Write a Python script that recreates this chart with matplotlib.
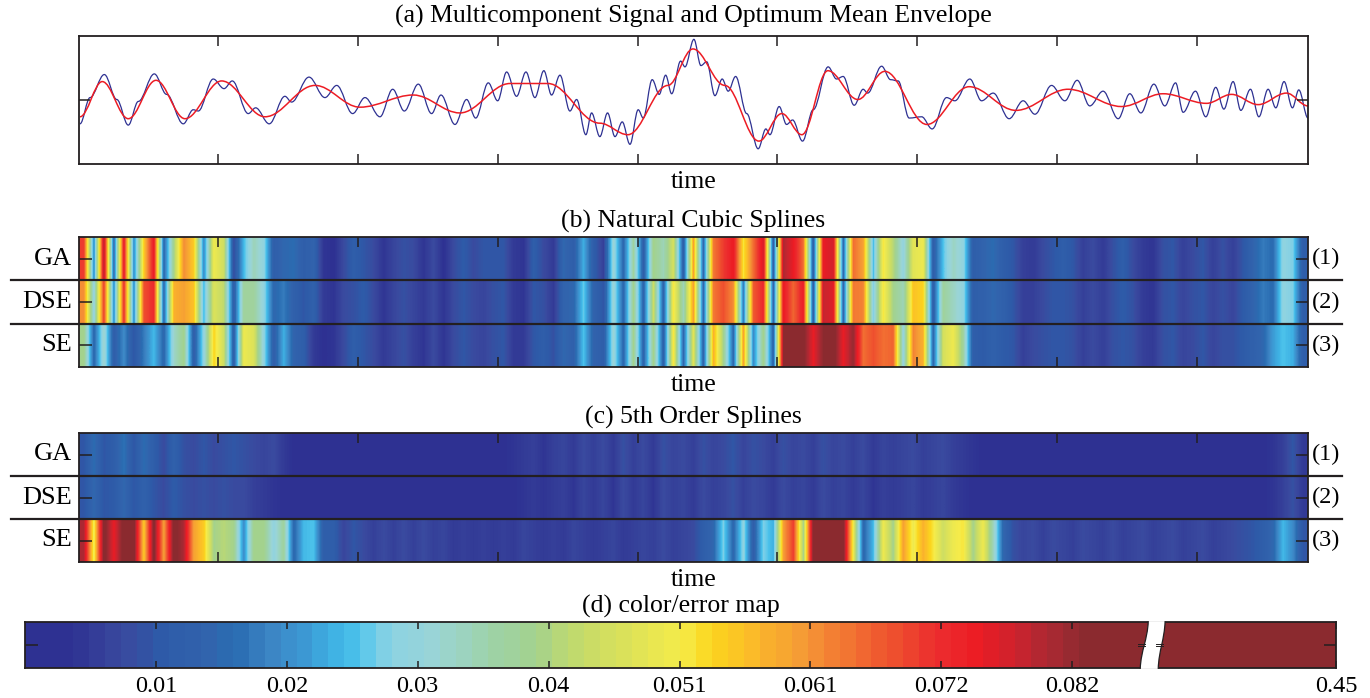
import numpy as np
import matplotlib
matplotlib.use('Agg')
import matplotlib.pyplot as plt
from matplotlib.path import Path
from matplotlib.patches import PathPatch, Rectangle
from matplotlib.colors import LinearSegmentedColormap, Normalize

plt.rcParams['font.family'] = ['Liberation Serif', 'DejaVu Serif']

# ---- (a) signal: turning points of the multicomponent signal and of the mean envelope
sig_t = [1.7, 8.9, 19.1, 28.0, 36.2, 43.4, 54.8, 63.6, 75.5, 82.6, 86.2, 96.9, 104.6, 110.5, 121.9,
         127.2, 136.9, 148.1, 152.9, 165.3, 176.7, 185.1, 196.5, 205.3, 216.0, 225.1, 233.4, 243.4,
         252.9, 259.6, 269.6, 277.9, 284.4, 293.4, 300.1, 306.5, 313.6, 320.3, 326.7, 333.1, 338.6,
         344.6, 351.7, 356.5, 363.1, 367.2, 373.1, 378.6, 383.9, 389.1, 394.6, 400.5, 404.1, 410.5,
         415.5, 420.1, 424.4, 430.8, 433.9, 440.3, 445.3, 449.4, 455.3, 460.5, 464.8, 470.1, 478.0,
         486.2, 491.7, 494.6, 501.2, 506.5, 510.8, 517.9, 525.5, 536.2, 542.2, 546.9, 554.8, 561.2,
         564.4, 574.4, 580.8, 586.2, 594.1, 603.0, 610.5, 620.8, 626.7, 637.4, 645.8, 654.1, 665.5,
         675.5, 683.9, 695.8, 705.3, 714.1, 723.1, 732.6, 743.4, 751.7, 759.6, 768.9, 776.7, 784.4,
         789.8, 798.6, 806.0, 813.1, 818.9, 825.5, 831.0, 837.9, 843.9, 850.5, 856.0, 861.9, 867.9,
         872.4, 879.0]
sig_v = [-0.38, 0.03, 0.39, 0.0, -0.40, -0.03, 0.40, 0.08, -0.38, -0.16, -0.18, 0.32, 0.17, 0.29, -0.22,
         -0.13, -0.38, 0.05, -0.04, 0.35, 0.03, 0.22, -0.22, 0.03, -0.27, 0.16, -0.18, 0.24,
         -0.22, 0.07, -0.39, 0.0, -0.29, 0.26, -0.02, 0.43, 0.05, 0.43, 0.03, 0.45, 0.07,
         0.38, -0.18, 0.0, -0.55, -0.21, -0.58, -0.21, -0.58, -0.35, -0.70, -0.16, -0.29, 0.31,
         0.08, 0.38, 0.09, 0.60, 0.51, 0.94, 0.53, 0.59, 0.06, 0.32, 0.13, 0.36, -0.22,
         -0.77, -0.46, -0.55, -0.11, -0.39, -0.32, -0.65, -0.16, 0.51, 0.32, 0.36, -0.09, 0.16,
         0.10, 0.52, 0.31, 0.29, -0.29, -0.27, -0.46, 0.03, -0.02, 0.32, -0.02, 0.10, -0.30,
         -0.02, -0.23, 0.22, -0.02, 0.30, -0.10, 0.13, -0.30, 0.09, -0.21, 0.24, -0.10, 0.26,
         -0.20, 0.13, -0.27, 0.19, -0.15, 0.28, -0.17, 0.16, -0.27, 0.16, -0.13, 0.28, -0.13,
         0.15, -0.29]
env_t = [1.7, 17.6, 36.2, 56.0, 76.7, 102.9, 133.9, 169.6, 201.7, 239.8, 273.1, 308.9, 336.0, 373.0,
         393.1, 421.7, 439.6, 462.4, 486.7, 503.1, 517.4, 536.0, 557.4, 576.7, 606.7, 636.9, 670.3,
         707.6, 745.8, 775.5, 806.5, 824.4, 843.4, 863.6, 879.0]
env_v = [-0.27, 0.28, -0.30, 0.30, -0.30, 0.29, -0.27, 0.22, -0.12, 0.07, -0.21, 0.25, 0.25, -0.37,
         -0.55, 0.22, 0.79, 0.22, -0.65, -0.22, -0.55, 0.45, 0.0, 0.44, -0.39, 0.20, -0.17,
         0.16, -0.11, 0.09, -0.06, 0.08, -0.08, 0.10, -0.10]

# ---- (b), (c): error along time (123 equal time bins), units of 1e-3
rows = ['GA', 'DSE', 'SE']
row_tags = ['(1)', '(2)', '(3)']
nat_GA = [70, 20, 80, 15, 75, 20, 55, 75, 15, 40, 62, 55, 20, 50, 45, 8, 25, 35, 30, 12,
          15, 16, 12, 14, 4, 3, 8, 12, 10, 8, 4, 7, 9, 8, 4, 8, 3, 8, 11, 8, 10,
          10, 10, 5, 4, 12, 8, 5, 15, 12, 24, 12, 6, 32, 15, 38, 12, 40, 35, 46, 12,
          60, 15, 64, 70, 75, 52, 65, 77, 12, 80, 75, 65, 12, 75, 77, 15, 65, 60, 25, 52, 42,
          30, 48, 50, 12, 26, 34, 30, 12, 14, 16, 12, 10, 6, 5, 8, 10, 12, 10, 6, 8,
          5, 9, 12, 8, 5, 4, 9, 10, 6, 8, 10, 6, 9, 6, 10, 14, 18, 16, 30, 28, 12]
nat_DSE = [62, 30, 70, 20, 72, 20, 68, 72, 15, 58, 60, 56, 25, 47, 43, 12, 38, 38, 30, 15,
           18, 13, 10, 13, 5, 4, 8, 9, 11, 8, 4, 7, 9, 7, 5, 8, 4, 8, 10, 8, 7,
           9, 10, 5, 4, 10, 9, 5, 14, 15, 27, 14, 10, 32, 15, 40, 14, 45, 14, 52, 35,
           60, 15, 64, 68, 62, 18, 67, 72, 14, 75, 66, 74, 12, 78, 76, 14, 64, 63, 28, 52, 40,
           35, 56, 54, 12, 38, 34, 30, 12, 13, 15, 13, 10, 6, 6, 8, 10, 10, 9, 6, 8,
           6, 9, 11, 9, 5, 4, 9, 10, 7, 9, 10, 7, 9, 7, 11, 14, 18, 16, 30, 28, 12]
nat_SE = [40, 15, 33, 12, 20, 10, 18, 25, 15, 33, 40, 12, 30, 54, 45, 12, 50, 47, 30, 12,
          24, 14, 12, 5, 3, 4, 8, 12, 10, 8, 5, 7, 9, 6, 4, 8, 4, 8, 10, 8, 7,
          9, 10, 5, 5, 10, 12, 9, 15, 13, 26, 14, 12, 32, 15, 40, 14, 40, 13, 52, 15,
          48, 14, 58, 40, 15, 60, 20, 40, 14, 83, 85, 84, 75, 83, 85, 75, 82, 65, 68, 65, 66,
          30, 63, 58, 15, 46, 50, 38, 12, 11, 13, 11, 10, 6, 8, 9, 10, 10, 9, 6, 8,
          6, 9, 10, 9, 6, 5, 9, 10, 7, 8, 10, 7, 9, 9, 11, 13, 15, 22, 26, 24, 12]
fifth_GA = [10, 16, 10, 12, 17, 10, 16, 12, 8, 13, 9, 8, 10, 8, 9, 10, 9, 8, 7, 8,
            5, 3, 3, 3, 3, 3, 3, 3, 3, 3, 3, 3, 3, 3, 3, 3, 3, 3, 3, 3, 3,
            3, 3, 4, 5, 6, 4, 6, 7, 5, 8, 6, 8, 5, 9, 6, 8, 5, 9, 7, 8,
            6, 9, 7, 8, 10, 7, 9, 8, 6, 9, 7, 8, 6, 9, 7, 8, 6, 8, 5, 7, 6,
            7, 8, 6, 7, 8, 6, 5, 4, 3, 3, 3, 3, 3, 3, 3, 3, 3, 3, 3, 3,
            3, 3, 3, 3, 3, 3, 3, 3, 3, 3, 3, 3, 3, 3, 3, 3, 3, 4, 6, 10, 5]
fifth_DSE = [10, 15, 10, 11, 15, 10, 13, 10, 8, 11, 9, 8, 9, 8, 9, 8, 8, 6, 5, 4,
             3, 3, 3, 3, 3, 3, 3, 3, 3, 3, 3, 3, 3, 3, 3, 3, 3, 3, 3, 3, 3,
             3, 3, 3, 4, 5, 4, 5, 6, 4, 7, 5, 7, 4, 8, 5, 7, 4, 8, 6, 7,
             5, 8, 6, 7, 9, 6, 8, 7, 5, 8, 6, 7, 5, 8, 6, 7, 5, 7, 4, 6, 5,
             6, 7, 5, 6, 7, 5, 4, 3, 3, 3, 3, 3, 3, 3, 3, 3, 3, 3, 3, 3,
             3, 3, 3, 3, 3, 3, 3, 3, 3, 3, 3, 3, 3, 3, 3, 3, 3, 4, 6, 9, 5]
fifth_SE = [80, 50, 85, 75, 85, 85, 55, 85, 60, 85, 80, 60, 55, 40, 42, 40, 20, 40, 40, 30,
            38, 15, 25, 26, 12, 12, 7, 10, 8, 6, 8, 6, 8, 6, 8, 6, 7, 5, 6, 5, 6,
            5, 6, 5, 7, 6, 5, 6, 5, 7, 6, 5, 6, 7, 5, 6, 7, 6, 8, 6, 7,
            8, 12, 15, 28, 15, 30, 12, 28, 24, 60, 70, 40, 85, 85, 85, 85, 50, 15, 25, 50, 40,
            60, 50, 58, 52, 45, 50, 52, 40, 50, 35, 15, 9, 7, 8, 6, 8, 7, 6, 8, 7,
            6, 8, 6, 7, 8, 6, 7, 8, 6, 7, 8, 6, 7, 8, 9, 10, 12, 15, 25, 20, 10]

# ---- (d) colour / error map
cb_ticks = [0.01025, 0.0205, 0.03075, 0.041, 0.05125, 0.0615, 0.07175, 0.082]
cb_labels = ['0.01', '0.02', '0.03', '0.04', '0.051', '0.061', '0.072', '0.082']
cb_max_label = '0.45'

cmap_nodes = [(0.000, '#2e3192'), (0.003, '#2e3192'), (0.0077, '#3a4a9f'), (0.0104, '#2e5aa8'),
              (0.0143, '#3265ae'), (0.0163, '#2a6db2'), (0.019, '#3d84c4'), (0.0216, '#3c98d3'),
              (0.0242, '#3fb2e4'), (0.026, '#4dc4ec'), (0.0276, '#7acfe8'), (0.0294, '#8fd3e1'),
              (0.032, '#9ad5d7'), (0.0364, '#9ed3a9'), (0.0399, '#a3d28e'), (0.0434, '#c5db6a'),
              (0.0469, '#dbe25a'), (0.0513, '#f6ec4a'), (0.0538, '#fcd61e'), (0.0574, '#fbb72b'),
              (0.0609, '#f59a36'), (0.0643, '#f37633'), (0.0678, '#ef532f'), (0.0718, '#ec2b2e'),
              (0.0748, '#ed1c24'), (0.0783, '#c52530'), (0.0811, '#a12a33'), (0.0832, '#8b2a2f'),
              (0.0864, '#8b2a2f')]
VMAX = 0.0864
cmap = LinearSegmentedColormap.from_list('err', [(v / VMAX, c) for v, c in cmap_nodes])
norm = Normalize(0, VMAX, clip=True)

T0, T1 = 1, 879
EDGE = '#231f20'
FS = 18.5


def smooth_path(t, v, k=0.36):
    verts = [(t[0], v[0])]
    codes = [Path.MOVETO]
    for i in range(len(t) - 1):
        d = t[i + 1] - t[i]
        verts += [(t[i] + k * d, v[i]), (t[i + 1] - k * d, v[i + 1]), (t[i + 1], v[i + 1])]
        codes += [Path.CURVE4] * 3
    return Path(verts, codes)


def style(ax, ylen=8):
    for s in ax.spines.values():
        s.set_color(EDGE)
        s.set_linewidth(1.3)
    ax.tick_params(direction='in', top=True, right=True, bottom=True, left=True,
                   labelbottom=False, labelleft=False, color=EDGE, width=1.1)
    ax.tick_params(axis='x', length=7)
    ax.tick_params(axis='y', length=ylen)


def time_label(ax):
    ax.annotate('time', (0.5, 0), xycoords='axes fraction', xytext=(0, -17.5),
                textcoords='offset points', ha='center', va='baseline', fontsize=FS)


def title(ax, s, off=6.5):
    ax.annotate(s, (0.5, 1), xycoords='axes fraction', xytext=(0, off),
                textcoords='offset points', ha='center', va='baseline', fontsize=FS)


W, H = 1370, 698
fig = plt.figure(figsize=(W / 100, H / 100), dpi=100)


def box(x0, y0, x1, y1):
    return [x0 / W, 1 - y1 / H, (x1 - x0) / W, (y1 - y0) / H]


# (a)
ax = fig.add_axes(box(79, 35.5, 1308, 163.5))
ax.add_patch(PathPatch(smooth_path(sig_t, sig_v), fill=False, edgecolor='#2e3192', lw=0.9))
ax.add_patch(PathPatch(smooth_path(env_t, env_v), fill=False, edgecolor='#ed1c24', lw=1.1))
ax.set_xlim(T0, T1)
ax.set_ylim(-1, 1)
ax.set_xticks(range(100, 900, 100))
ax.set_yticks([0])
style(ax, 8)
title(ax, '(a) Multicomponent Signal and Optimum Mean Envelope', 9)
time_label(ax)

# (b), (c)
for (y0, y1, name, data) in [(237, 367, '(b) Natural Cubic Splines', [nat_GA, nat_DSE, nat_SE]),
                             (433, 562, '(c) 5th Order Splines', [fifth_GA, fifth_DSE, fifth_SE])]:
    ax = fig.add_axes(box(79, y0, 1308, y1))
    for r, vals in enumerate(data):
        arr = np.array(vals, dtype=float)[None, :] / 1000.0
        ax.imshow(arr, cmap=cmap, norm=norm, aspect='auto', interpolation='bilinear',
                  extent=(T0, T1, r + 1, r))
    ax.set_xlim(T0, T1)
    ax.set_ylim(3, 0)
    ax.set_xticks(range(100, 900, 100))
    ax.set_yticks([0.5, 1.5, 2.5])
    style(ax, 9)
    for yb in (1, 2):
        ax.plot([-0.0553, 1.0277], [yb, yb], transform=ax.get_yaxis_transform(),
                color=EDGE, lw=1.6, clip_on=False)
    for r in range(3):
        ax.annotate(rows[r], (0, r + 0.5), xycoords=ax.get_yaxis_transform(), xytext=(-5, 0),
                    textcoords='offset points', ha='right', va='center', fontsize=FS + 0.5)
        ax.annotate(row_tags[r], (1, r + 0.5), xycoords=ax.get_yaxis_transform(), xytext=(3, 0),
                    textcoords='offset points', ha='left', va='center', fontsize=FS - 1)
    title(ax, name)
    time_label(ax)

# (d) colour bar with a break before the max value
ax = fig.add_axes(box(25, 622, 1336, 668))
step = 0.00125
levels = np.arange(step / 2, 0.0875, step)
ax.imshow(levels[None, :], cmap=cmap, norm=norm, aspect='auto', interpolation='nearest',
          extent=(0, 0.0875, 0, 1))
x_end = 0.10265
ax.add_patch(Rectangle((0.0874, 0), x_end - 0.0874, 1, color=cmap(1.0), lw=0))
ax.set_xlim(0, x_end)
ax.set_ylim(0, 1)


def edge_curve(xt, xb):
    d = xt - xb
    return [(xt, 1.02), (xt - 0.1 * d, 0.6), (xb + 0.1 * d, 0.4), (xb, -0.02)]


lc = edge_curve(0.08795, 0.08732)
rc = edge_curve(0.08927, 0.08873)
gap = Path(lc + [rc[3]] + rc[2::-1] + [lc[0]],
           [Path.MOVETO, Path.CURVE4, Path.CURVE4, Path.CURVE4, Path.LINETO,
            Path.CURVE4, Path.CURVE4, Path.CURVE4, Path.CLOSEPOLY])
ax.add_patch(PathPatch(gap, facecolor='white', edgecolor='none', clip_on=False, zorder=3))
for c in (lc, rc):
    ax.add_patch(PathPatch(Path(c, [Path.MOVETO] + [Path.CURVE4] * 3), fill=False,
                           edgecolor=EDGE, lw=0.9, zorder=4, clip_on=False))
for xm in (0.08745, 0.0888):
    for yy in (0.47, 0.53):
        ax.plot([xm - 0.00028, xm + 0.00028], [yy, yy], color=EDGE, lw=0.7, zorder=5)
for s in ax.spines.values():
    s.set_color(EDGE)
    s.set_linewidth(1.3)
ax.set_xticks(cb_ticks + [x_end])
ax.set_xticklabels(cb_labels + [cb_max_label], fontsize=FS - 1)
ax.set_yticks([0.5])
ax.tick_params(direction='in', top=True, right=True, labelleft=False, color=EDGE, width=1.1,
               pad=6)
ax.tick_params(axis='x', length=5)
ax.tick_params(axis='y', length=9)
title(ax, '(d) color/error map', 7)

fig.savefig('out.png', dpi=100)
